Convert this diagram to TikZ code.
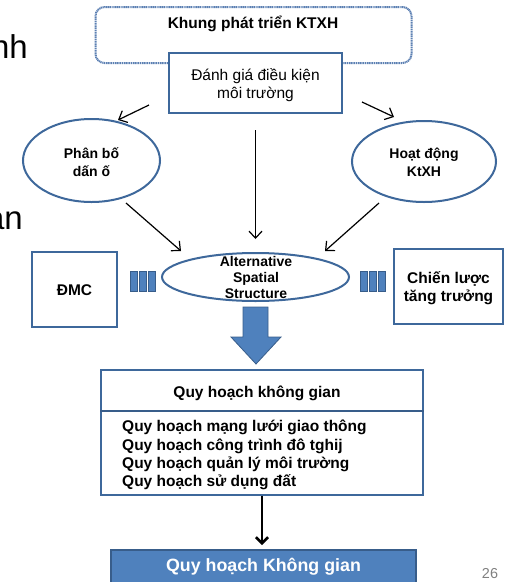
\documentclass[tikz,border=0pt]{standalone}
\usepackage{fontspec}
\setmainfont{Liberation Sans}
\usetikzlibrary{arrows.meta,shapes.geometric}
\definecolor{bdr}{HTML}{3E689B}
\definecolor{fillb}{HTML}{4F81BD}
\definecolor{dkb}{HTML}{385D8A}
\definecolor{dashc}{HTML}{5B7FB2}
\begin{document}
\begin{tikzpicture}[x=1pt,y=-1pt,
  lbl/.style={font=\fontsize{15.5}{18}\selectfont\bfseries, align=center, inner sep=0},
  lblr/.style={font=\fontsize{15.5}{18}\selectfont, align=center, inner sep=0},
  elab/.style={font=\fontsize{14}{18}\selectfont\bfseries, align=center, inner sep=0},
  box/.style={draw=bdr, line width=1.4pt, fill=white, inner sep=0},
  ell/.style={draw=bdr, ellipse, line width=2pt, inner sep=0},
  thin/.style={draw=black, line width=1.2pt, -{Straight Barb[length=7pt,width=13pt]}},
  bar/.style={draw=dkb, fill=fillb, line width=0.8pt}
]
\useasboundingbox (0,0) rectangle (508,582);

% cut-off slide text at the left
\node[anchor=base east, inner sep=0, font=\fontsize{33}{36}\selectfont] (nh) at (28,58) {nh};
\node[anchor=base east, inner sep=0, font=\fontsize{33}{36}\selectfont] (an) at (23,229) {an};

% top frame
\node[draw=dashc, line width=2pt, dash pattern=on 1.2pt off 0.6pt, rounded corners=9pt,
      minimum width=316pt, minimum height=56pt, inner sep=0] (frame) at (253.5,35) {};
\node[lbl] (khung) at (253,24) {Khung phát triển KTXH};

% evaluation box
\node[box, minimum width=173pt, minimum height=60pt] (eval) at (255.5,83) {};
\node[lblr] (evalt) at (255.5,85) {Đánh giá điều kiện\\môi trường};

% ellipses
\node[ell, minimum width=137pt, minimum height=83pt] (pb) at (91.5,160.5) {};
\node[elab] (pbt) at (91.5,162) {Phân bố\\dấn ố};
\node[ell, minimum width=144pt, minimum height=81pt] (hd) at (424,161.5) {};
\node[elab] (hdt) at (424,162) {Hoạt động\\KtXH};

\node[ell, fill=white, minimum width=187pt, minimum height=48pt] (alt) at (255.5,277) {};
\node[font=\fontsize{14}{16}\selectfont\bfseries, align=center, inner sep=0] (altt) at (256,277) {Alternative\\Spatial\\Structure};

% side boxes
\node[box, minimum width=85pt, minimum height=75pt] (dmc) at (74.5,289.5) {};
\node[lbl] (dmct) at (74.5,290) {ĐMC};
\node[box, minimum width=109pt, minimum height=75pt] (cl) at (448.5,286.5) {};
\node[lbl] (clt) at (448.5,288.5) {Chiến lược\\tăng trưởng};

% triple bars
\foreach \x in {130,139,148} { \draw[bar] (\x,271) rectangle ++(7,20); }
\foreach \x in {360,369,378} { \draw[bar] (\x,271) rectangle ++(7,20); }

% connectors (thin arrows)
\coordinate (a1s) at (149,105); \coordinate (a1e) at (118,120);
\coordinate (a2s) at (362,102); \coordinate (a2e) at (394,117);
\coordinate (a3s) at (255.5,130); \coordinate (a3e) at (255.5,239);
\coordinate (a4s) at (126,203); \coordinate (a4e) at (181,251);
\coordinate (a5s) at (379,203); \coordinate (a5e) at (325,251);
\draw[thin] (a1s) -- (a1e);
\draw[thin] (a2s) -- (a2e);
\draw[thin] (a3s) -- (a3e);
\draw[thin] (a4s) -- (a4e);
\draw[thin] (a5s) -- (a5e);

% block arrow
\draw[draw=dkb, fill=fillb, line width=0.8pt] (243,307) -- (268,307) -- (268,337) -- (281,337)
  -- (256,364) -- (231,337) -- (243,337) -- cycle;

% spatial planning box
\node[box, minimum width=322pt, minimum height=125pt] (qh) at (262,432.5) {};
\draw[draw=dkb, line width=1.6pt] (qh.west |- 0,411) -- (qh.east |- 0,411);
\node[lbl] (qht) at (257,393) {Quy hoạch không gian};
\node[font=\fontsize{15.5}{18.3}\selectfont\bfseries, align=left, inner sep=0, anchor=west] (list) at (122,455)
  {Quy hoạch mạng lưới giao thông\\Quy hoạch công trình đô tghij\\Quy hoạch quản lý môi trường\\Quy hoạch sử dụng đất};

% final box
\node[draw=dkb, fill=fillb, line width=1.4pt, minimum width=305pt, minimum height=38pt, inner sep=0] (fin) at (263.5,569) {};
\node[font=\fontsize{17.8}{20}\selectfont\bfseries, text=white, inner sep=0] (fint) at (263.5,567) {Quy hoạch Không gian};

\coordinate (a6e) at (262,545);
\draw[draw=black, line width=2.6pt, -{Straight Barb[length=6pt,width=12pt]}] (qh.south) -- (a6e);

% page number
\node[font=\fontsize{14.4}{16}\selectfont, text=black!50, inner sep=0] (pg) at (490,574) {26};
\end{tikzpicture}
\end{document}
